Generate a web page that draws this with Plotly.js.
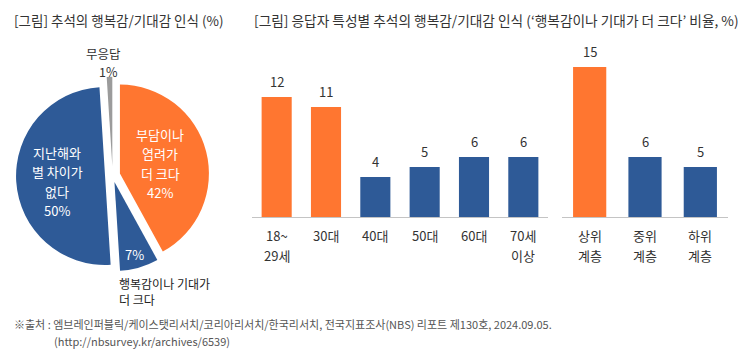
<!DOCTYPE html>
<html><head><meta charset="utf-8">
<script src="https://cdn.plot.ly/plotly-3.0.1.min.js"></script>
<style>html,body{margin:0;padding:0;background:#fff;} #chart{width:738px;height:364px;}</style>
</head><body><div id="chart"></div>
<script>
// ---- data ----
const pieLabels = ['부담이나<br>염려가<br>더 크다', '행복감이나 기대가<br>더 크다', '지난해와<br>별 차이가<br>없다', '무응답'];
const pieValues = [42, 7, 50, 1];
const ageLabels = ['18~<br>29세', '30대', '40대', '50대', '60대', '70세<br>이상'];
const ageValues = [12, 11, 4, 5, 6, 6];
const classLabels = ['상위<br>계층', '중위<br>계층', '하위<br>계층'];
const classValues = [15, 6, 5];
const titleLeft = '[그림] 추석의 행복감/기대감 인식 (%)';
const titleRight = '[그림] 응답자 특성별 추석의 행복감/기대감 인식 (‘행복감이나 기대가 더 크다’ 비율, %)';
const sourceLines = ['※출처 : 엠브레인퍼블릭/케이스탯리서치/코리아리서치/한국리서치, 전국지표조사(NBS) 리포트 제130호, 2024.09.05.',
                     '(http://nbsurvey.kr/archives/6539)'];

// ---- style ----
const W = 738, H = 364;
const ORANGE = '#FF7630', BLUE = '#2E5A97', GRAY = '#9B9B9B';
const FONT = '"Noto Sans CJK KR", "Noto Sans", sans-serif';
const px = x => x / W, py = y => 1 - y / H;
const annotations = [];
function txt(text, x, y, o = {}) {
  annotations.push(Object.assign({
    text, x: px(x), y: py(y), xref: 'paper', yref: 'paper', showarrow: false,
    xanchor: 'center', yanchor: 'middle',
    font: {family: FONT, size: 13, color: '#333'}
  }, o));
}
function lines(list, x, y0, step, o) { list.forEach((t, i) => txt(t, x, y0 + i * step, o)); }

// titles
txt(titleLeft, 12, 20, {xanchor: 'left', font: {family: FONT, size: 13.5, color: '#333'}});
txt(titleRight, 252, 20, {xanchor: 'left', font: {family: FONT, size: 13.7, color: '#333'}});
// source
txt(sourceLines[0], 12, 323.5, {xanchor: 'left', font: {family: FONT, size: 11, color: '#555'}});
txt(sourceLines[1], 52, 341, {xanchor: 'left', font: {family: FONT, size: 11, color: '#555'}});

// pie labels
const white = {family: FONT, size: 13, color: '#fff'};
lines(pieLabels[0].split('<br>').concat([pieValues[0] + '%']), 160, 134, 19.5, {font: white});
lines(pieLabels[2].split('<br>').concat([pieValues[2] + '%']), 57.5, 152, 19.5, {font: white});
txt(pieValues[1] + '%', 134, 254, {font: white});
txt(pieLabels[1], 118, 291.5, {xanchor: 'left', align: 'left', borderpad: 0, font: {family: FONT, size: 12, color: '#222'}});
const smallGray = {borderpad: 0, font: {family: FONT, size: 12.5, color: '#333'}};
txt(pieLabels[3], 103, 53, smallGray);
txt(pieValues[3] + '%', 108, 71.5, smallGray);

// bar value labels + category labels
function barTexts(cats, vals, xr, yr) {
  cats.forEach((c, i) => {
    annotations.push({text: String(vals[i]), x: c, y: vals[i], xref: xr, yref: yr, showarrow: false,
      yanchor: 'bottom', yshift: 4, font: {family: FONT, size: 13, color: '#333'}});
    c.split('<br>').forEach((l, j) => {
      annotations.push({text: l, x: c, y: 0, xref: xr, yref: yr, showarrow: false,
        yanchor: 'middle', yshift: -(18 + 20 * j), font: {family: FONT, size: 13, color: '#333'}});
    });
  });
}
barTexts(ageLabels, ageValues, 'x', 'y');
barTexts(classLabels, classValues, 'x2', 'y2');

const pieR = 89, maxPull = 0.11, cx = 112.6, cy = 175.5;
const half = pieR * (1 + maxPull);

const data = [
  {type: 'pie', values: pieValues, labels: pieLabels, sort: false, direction: 'clockwise', rotation: 0,
   marker: {colors: [ORANGE, BLUE, BLUE, GRAY], line: {width: 0}},
   pull: [0.085, 0.075, 0.085, 0.11], textinfo: 'none', hoverinfo: 'none', showlegend: false,
   domain: {x: [px(cx - half), px(cx + half)], y: [py(cy + half), py(cy - half)]}},
  {type: 'bar', x: ageLabels, y: ageValues, xaxis: 'x', yaxis: 'y', width: 0.61,
   marker: {color: [ORANGE, ORANGE, BLUE, BLUE, BLUE, BLUE]}, hoverinfo: 'none', showlegend: false},
  {type: 'bar', x: classLabels, y: classValues, xaxis: 'x2', yaxis: 'y2', width: 0.6,
   marker: {color: [ORANGE, BLUE, BLUE]}, hoverinfo: 'none', showlegend: false}
];

const yBase = py(217), yTop = py(57);
const xax = d => ({domain: d, showline: true, linecolor: '#c4c4c4', linewidth: 1, showticklabels: false,
  ticks: '', showgrid: false, zeroline: false, fixedrange: true});
const yax = a => ({domain: [yBase, yTop], range: [0, 16], visible: false, anchor: a, fixedrange: true});
const layout = {
  width: W, height: H, margin: {l: 0, r: 0, t: 0, b: 0},
  paper_bgcolor: '#fff', plot_bgcolor: 'rgba(0,0,0,0)',
  font: {family: FONT, color: '#333'},
  xaxis: Object.assign(xax([px(252), px(548)]), {anchor: 'y'}),
  xaxis2: Object.assign(xax([px(562), px(728)]), {anchor: 'y2'}),
  yaxis: yax('x'), yaxis2: yax('x2'),
  annotations, showlegend: false
};
Plotly.newPlot('chart', data, layout, {displayModeBar: false, staticPlot: true});
</script></body></html>
